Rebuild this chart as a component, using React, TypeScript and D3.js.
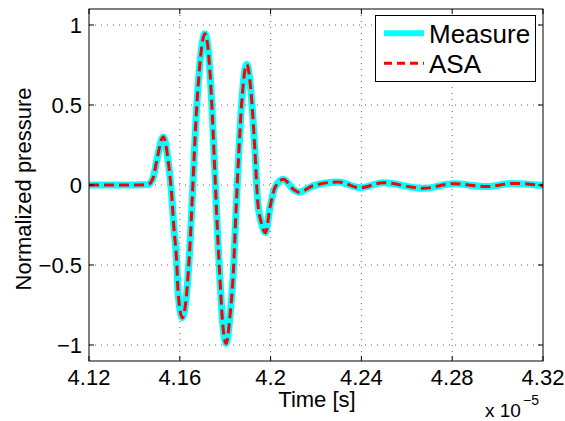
import React from "react";
import * as d3 from "d3";

// time in units of 1e-5 s
const times = [
  4.12, 4.13, 4.14, 4.146, 4.1483, 4.1498, 4.1527, 4.1549, 4.1564, 4.1574, 4.1586, 4.1593,
  4.1611, 4.163, 4.1645, 4.1655, 4.1664, 4.1671, 4.1685, 4.1711, 4.1733, 4.1745, 4.1755,
  4.1765, 4.1777, 4.1787, 4.1804, 4.1821, 4.1836, 4.1846, 4.1855, 4.1861, 4.1873, 4.1895,
  4.1917, 4.1931, 4.1943, 4.1958, 4.1978, 4.1997, 4.2019, 4.2056, 4.21, 4.2124, 4.2187,
  4.2298, 4.2394, 4.2496, 4.2673, 4.2805, 4.2952, 4.3069, 4.32,
];
const measureValues = [
  0, 0, 0, 0.003, 0.046, 0.15, 0.3, 0.15, -0.058, -0.266, -0.474, -0.68,
  -0.83, -0.68, -0.37, -0.08, 0.2, 0.4, 0.7, 0.945, 0.705, 0.385, 0.06,
  -0.26, -0.59, -0.83, -0.99, -0.82, -0.54, -0.215, 0.06, 0.23, 0.52, 0.753,
  0.524, 0.212, -0.1, -0.23, -0.298, -0.142, -0.017, 0.036, -0.027, -0.045, -0.005,
  0.019, -0.017, 0.014, -0.021, 0.008, -0.01, 0.01, -0.004,
];
const asaValues = [
  0, 0, 0, 0.003, 0.046, 0.15, 0.3, 0.15, -0.058, -0.266, -0.474, -0.68,
  -0.83, -0.68, -0.37, -0.08, 0.2, 0.4, 0.7, 0.945, 0.705, 0.385, 0.06,
  -0.26, -0.59, -0.83, -0.99, -0.82, -0.54, -0.215, 0.06, 0.23, 0.52, 0.753,
  0.524, 0.212, -0.1, -0.23, -0.298, -0.142, -0.017, 0.036, -0.027, -0.045, -0.005,
  0.019, -0.017, 0.014, -0.021, 0.008, -0.01, 0.01, -0.004,
];
const xTicks = [4.12, 4.16, 4.2, 4.24, 4.28, 4.32];
const xTickLabels = ["4.12", "4.16", "4.2", "4.24", "4.28", "4.32"];
const yTicks = [-1, -0.5, 0, 0.5, 1];
const yTickLabels = ["\u22121", "\u22120.5", "0", "0.5", "1"];
const seriesNames = ["Measure", "ASA"];

const FONT = "'Liberation Sans', Arial, Helvetica, sans-serif";

export default function App() {
  const W = 565, H = 421;
  const L = 89, R = 543, T = 9, B = 361;
  const x = d3.scaleLinear().domain([4.12, 4.32]).range([L, R]);
  const y = d3.scaleLinear().domain([-1.1, 1.1]).range([B, T]);
  const line = d3
    .line<number>()
    .x((_, i) => x(times[i]))
    .y((d) => y(d))
    .curve(d3.curveMonotoneX);
  const tick = 5;
  const gridColor = "#666";

  return (
    <svg
      width={W}
      height={H}
      style={{ position: "fixed", left: 0, top: 0, background: "#fff" }}
      fontFamily={FONT}
    >
      <rect x={0} y={0} width={W} height={H} fill="#fff" />
      <defs>
        <clipPath id="plotclip">
          <rect x={L} y={T} width={R - L} height={B - T} />
        </clipPath>
      </defs>
      {/* grid */}
      <g stroke={gridColor} strokeWidth={1} strokeDasharray="1,5">
        {xTicks.slice(1, -1).map((t) => (
          <line key={"gx" + t} x1={x(t)} x2={x(t)} y1={T} y2={B} />
        ))}
        {yTicks.map((t) => (
          <line key={"gy" + t} x1={L} x2={R} y1={y(t)} y2={y(t)} />
        ))}
      </g>
      <g clipPath="url(#plotclip)" fill="none">
        <path d={line(measureValues) || ""} stroke="#00FFFF" strokeWidth={7} strokeLinejoin="round" strokeLinecap="round" />
        <path d={line(asaValues) || ""} stroke="#FF0000" strokeWidth={3} strokeDasharray="10,5" />
      </g>
      {/* axes box */}
      <rect x={L} y={T} width={R - L} height={B - T} fill="none" stroke="#000" strokeWidth={1} />
      <g stroke="#000" strokeWidth={1}>
        {xTicks.map((t) => (
          <g key={"tx" + t}>
            <line x1={x(t)} x2={x(t)} y1={B} y2={B - tick} />
            <line x1={x(t)} x2={x(t)} y1={T} y2={T + tick} />
          </g>
        ))}
        {yTicks.map((t) => (
          <g key={"ty" + t}>
            <line x1={L} x2={L + tick} y1={y(t)} y2={y(t)} />
            <line x1={R} x2={R - tick} y1={y(t)} y2={y(t)} />
          </g>
        ))}
      </g>
      <g fontSize={22} fill="#000">
        {xTicks.map((t, i) => (
          <text key={"lx" + t} x={x(t)} y={385} textAnchor="middle">
            {xTickLabels[i]}
          </text>
        ))}
        {yTicks.map((t, i) => (
          <text key={"ly" + t} x={82} y={y(t) + 8} textAnchor="end">
            {yTickLabels[i]}
          </text>
        ))}
        <text x={317} y={407} textAnchor="middle">Time [s]</text>
        <text transform={`translate(31,${(T + B) / 2 + 4}) rotate(-90)`} textAnchor="middle">
          Normalized pressure
        </text>
      </g>
      <text x={485} y={416.5} fontSize={19}>x 10</text>
      <text x={523} y={405} fontSize={14}>{"\u22125"}</text>
      {/* legend */}
      <g>
        <rect x={375.5} y={15.5} width={160} height={66} fill="#fff" stroke="#000" strokeWidth={1} />
        <line x1={384} x2={424} y1={33.3} y2={33.3} stroke="#00FFFF" strokeWidth={6} />
        <line x1={384} x2={424} y1={63.3} y2={63.3} stroke="#FF0000" strokeWidth={3} strokeDasharray="8,5" />
        <text x={429} y={43.3} fontSize={26}>{seriesNames[0]}</text>
        <text x={429} y={73.3} fontSize={26}>{seriesNames[1]}</text>
      </g>
    </svg>
  );
}
